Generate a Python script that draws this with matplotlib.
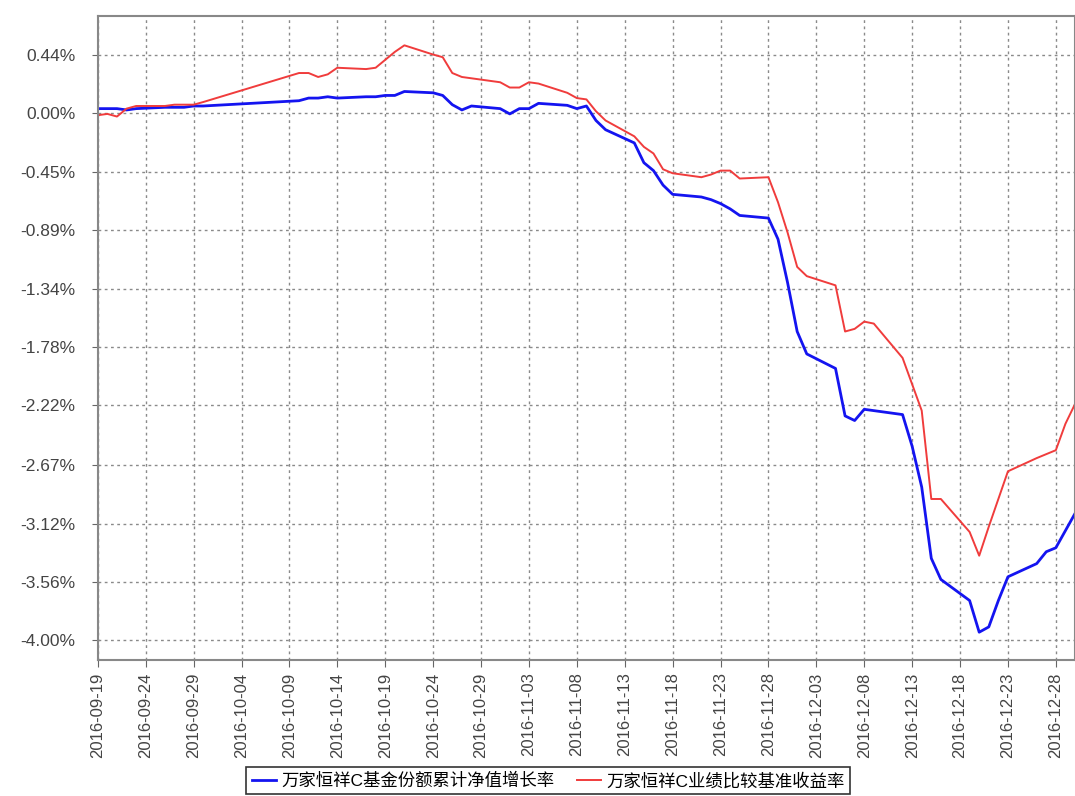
"""
plot.py
    cumulative return of fund vs benchmark, 2016-09-19 .. 2016-12-30
"""
import numpy as np
import pandas as pd
import matplotlib
matplotlib.use('Agg')
import matplotlib.pyplot as plt
import matplotlib.dates as mdates

plt.rcParams['font.family'] = ['Liberation Sans', 'Noto Sans CJK SC']

dates = ['2016-09-19', '2016-09-20', '2016-09-21', '2016-09-22', '2016-09-23',
         '2016-09-26', '2016-09-27', '2016-09-28', '2016-09-29', '2016-09-30',
         '2016-10-10', '2016-10-11', '2016-10-12', '2016-10-13', '2016-10-14',
         '2016-10-17', '2016-10-18', '2016-10-19', '2016-10-20', '2016-10-21',
         '2016-10-24', '2016-10-25', '2016-10-26', '2016-10-27', '2016-10-28',
         '2016-10-31', '2016-11-01', '2016-11-02', '2016-11-03', '2016-11-04',
         '2016-11-07', '2016-11-08', '2016-11-09', '2016-11-10', '2016-11-11',
         '2016-11-14', '2016-11-15', '2016-11-16', '2016-11-17', '2016-11-18',
         '2016-11-21', '2016-11-22', '2016-11-23', '2016-11-24', '2016-11-25',
         '2016-11-28', '2016-11-29', '2016-11-30', '2016-12-01', '2016-12-02',
         '2016-12-05', '2016-12-06', '2016-12-07', '2016-12-08', '2016-12-09',
         '2016-12-12', '2016-12-13', '2016-12-14', '2016-12-15', '2016-12-16',
         '2016-12-19', '2016-12-20', '2016-12-21', '2016-12-22', '2016-12-23',
         '2016-12-26', '2016-12-27', '2016-12-28', '2016-12-29', '2016-12-30']

# fund nav growth (%)
fund = [0.03, 0.03, 0.03, 0.02, 0.03,
        0.04, 0.04, 0.04, 0.05, 0.05,
        0.09, 0.11, 0.11, 0.12, 0.11,
        0.12, 0.12, 0.13, 0.13, 0.16,
        0.15, 0.13, 0.06, 0.02, 0.05,
        0.03, -0.01, 0.03, 0.03, 0.07,
        0.055, 0.03, 0.05, -0.06, -0.13,
        -0.23, -0.38, -0.44, -0.55, -0.62,
        -0.64, -0.66, -0.69, -0.73, -0.78,
        -0.80, -0.96, -1.29, -1.66, -1.83,
        -1.94, -2.30, -2.335, -2.25, -2.26,
        -2.29, -2.53, -2.84, -3.38, -3.54,
        -3.70, -3.94, -3.90, -3.70, -3.52,
        -3.42, -3.33, -3.30, -3.17, -3.04]

# benchmark return (%)
bench = [-0.02, -0.01, -0.03, 0.03, 0.05,
         0.05, 0.06, 0.06, 0.06, 0.08,
         0.30, 0.30, 0.27, 0.29, 0.34,
         0.33, 0.34, 0.40, 0.46, 0.51,
         0.44, 0.42, 0.30, 0.27, 0.26,
         0.23, 0.19, 0.19, 0.23, 0.22,
         0.15, 0.11, 0.10, 0.01, -0.06,
         -0.18, -0.26, -0.31, -0.43, -0.46,
         -0.49, -0.47, -0.44, -0.44, -0.50,
         -0.49, -0.68, -0.91, -1.17, -1.24,
         -1.31, -1.66, -1.64, -1.585, -1.60,
         -1.86, -2.06, -2.26, -2.93, -2.93,
         -3.18, -3.36, -3.14, -2.93, -2.72,
         -2.62, -2.59, -2.56, -2.36, -2.21]

y_ticks = [0.44, 0.00, -0.45, -0.89, -1.34, -1.78, -2.22, -2.67, -3.12, -3.56, -4.00]
y_labels = ['0.44%', '0.00%', '-0.45%', '-0.89%', '-1.34%', '-1.78%',
            '-2.22%', '-2.67%', '-3.12%', '-3.56%', '-4.00%']
x_ticks = pd.date_range('2016-09-19', '2016-12-28', freq='5D')

names = ['万家恒祥C基金份额累计净值增长率', '万家恒祥C业绩比较基准收益率']

x = pd.to_datetime(dates)

fig = plt.figure(figsize=(10.75, 7.96), dpi=100)
ax = fig.add_axes([0.091, 0.171, 0.909, 0.809])

ax.plot(x, fund, color='#1414f0', lw=2.0, label=names[0])
ax.plot(x, bench, color='#f03c3c', lw=1.4, label=names[1])

ax.set_xlim(pd.Timestamp('2016-09-19'), pd.Timestamp('2016-12-30'))
ax.set_ylim(-4.15, 0.733)

ax.set_yticks(y_ticks)
ax.set_yticklabels(y_labels, fontsize=12.5, color='#444444')
ax.set_xticks(x_ticks)
ax.xaxis.set_major_formatter(mdates.DateFormatter('%Y-%m-%d'))
plt.setp(ax.get_xticklabels(), rotation=90, fontsize=12, color='#444444')
ax.tick_params(axis='y', length=4, color='#666666', pad=12)
ax.tick_params(axis='x', length=5, color='#666666', pad=4)

ax.grid(True, color='#8a8a8a', linestyle=(0, (2, 2.5)), linewidth=1.0)
for s in ax.spines.values():
    s.set_color('#888888')
    s.set_linewidth(1.5)

leg = fig.legend(loc='upper center', bbox_to_anchor=(0.51, 0.036), ncol=2,
                 fontsize=12.5, frameon=True, fancybox=False, handlelength=1.4,
                 handletextpad=0.3, columnspacing=1.3, borderpad=0.3,
                 borderaxespad=0)
leg.get_frame().set_edgecolor('black')
leg.get_frame().set_linewidth(1.2)

fig.savefig('out.png', dpi=100)
